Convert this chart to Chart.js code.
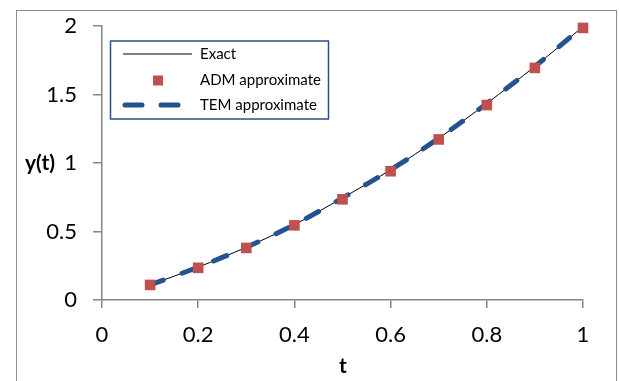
<!DOCTYPE html>
<html>
<head>
<meta charset="utf-8">
<script src="https://cdn.jsdelivr.net/npm/chart.js@4.4.0/dist/chart.umd.min.js"></script>
<style>
  body { margin: 0; background: #fff; }
  #wrap { position: relative; width: 619px; height: 381px; overflow: hidden; }
  #frame { position: absolute; left: 16px; top: 10px; width: 599px; height: 400px; border: 1px solid #8c8c8c; }
  canvas { position: absolute; left: 0; top: 0; }
</style>
</head>
<body>
<div id="wrap">
  <div id="frame"></div>
  <canvas id="chart" width="619" height="381"></canvas>
</div>
<script>
// data
const tValues = [0.1, 0.2, 0.3, 0.4, 0.5, 0.6, 0.7, 0.8, 0.9, 1.0];
const exactY = [0.11, 0.24, 0.385, 0.55, 0.745, 0.95, 1.18, 1.435, 1.705, 1.995];
const admY = [0.11, 0.235, 0.38, 0.545, 0.735, 0.94, 1.172, 1.423, 1.694, 1.986];
const temY = [0.11, 0.24, 0.385, 0.55, 0.745, 0.95, 1.18, 1.435, 1.705, 1.995];
const seriesNames = ['Exact', 'ADM approximate', 'TEM approximate'];
const xTitle = 't';
const yTitle = 'y(t)';

const FONT = 'Lato, "Open Sans", sans-serif';
const AXIS_COLOR = '#868686';
const TEM_COLOR = '#23528e';
const ADM_COLOR = '#c0504d';

const toPoints = (ys) => tValues.map((t, i) => ({ x: t, y: ys[i] }));
const fmt = (v) => String(Number(v.toFixed(2)));

// legend box + axis titles drawn by hand, like the Excel original
const extras = {
  id: 'extras',
  afterDraw(chart) {
    const ctx = chart.ctx;
    ctx.save();
    // legend frame
    ctx.strokeStyle = '#2b4f86';
    ctx.lineWidth = 1.5;
    ctx.fillStyle = '#fff';
    ctx.fillRect(110.5, 41, 218, 78);
    ctx.strokeRect(110.5, 41, 218, 78);

    // Exact sample
    ctx.strokeStyle = '#000';
    ctx.lineWidth = 1;
    ctx.beginPath();
    ctx.moveTo(123, 54);
    ctx.lineTo(192, 54);
    ctx.stroke();

    // ADM sample
    ctx.fillStyle = ADM_COLOR;
    ctx.fillRect(153, 75.5, 10, 10);

    // TEM sample
    ctx.strokeStyle = TEM_COLOR;
    ctx.lineWidth = 5;
    ctx.lineCap = 'round';
    ctx.setLineDash([17, 19]);
    ctx.beginPath();
    ctx.moveTo(125, 105);
    ctx.lineTo(178, 105);
    ctx.stroke();
    ctx.setLineDash([]);

    ctx.fillStyle = '#000';
    ctx.font = '15px ' + FONT;
    ctx.textBaseline = 'middle';
    ctx.textAlign = 'left';
    ctx.fillText(seriesNames[0], 200, 54);
    ctx.fillText(seriesNames[1], 200, 80);
    ctx.fillText(seriesNames[2], 200, 105);

    // axis titles
    ctx.font = 'bold 21px ' + FONT;
    ctx.fillText(yTitle, 25, 163);
    ctx.textAlign = 'center';
    ctx.fillText(xTitle, 343, 366);
    ctx.restore();
  }
};

new Chart(document.getElementById('chart'), {
  type: 'scatter',
  data: {
    datasets: [
      {
        label: seriesNames[1],
        data: toPoints(admY),
        showLine: false,
        clip: false,
        pointStyle: 'rect',
        pointRadius: 7.5,
        pointBackgroundColor: ADM_COLOR,
        pointBorderColor: ADM_COLOR,
        pointBorderWidth: 0,
        order: 1,
      },
      {
        label: seriesNames[2],
        data: toPoints(temY),
        showLine: true,
        clip: false,
        borderColor: TEM_COLOR,
        borderWidth: 5,
        borderDash: [14, 20],
        borderCapStyle: 'round',
        tension: 0.3,
        pointRadius: 0,
        order: 2,
      },
      {
        label: seriesNames[0],
        data: toPoints(exactY),
        showLine: true,
        clip: false,
        borderColor: '#000',
        borderWidth: 1,
        tension: 0.3,
        pointRadius: 0,
        order: 3,
      },
    ],
  },
  options: {
    responsive: false,
    animation: false,
    layout: { padding: { top: 26, right: 36, left: 0, bottom: 0 } },
    plugins: { legend: { display: false }, tooltip: { enabled: false } },
    scales: {
      x: {
        type: 'linear',
        min: 0,
        max: 1,
        afterFit: (scale) => { scale.height = 81; },
        ticks: { stepSize: 0.2, color: '#000', font: { family: FONT, size: 22 }, padding: 14, maxRotation: 0, callback: fmt },
        grid: { drawOnChartArea: false, tickLength: 8, color: AXIS_COLOR, lineWidth: 1.5 },
        border: { color: AXIS_COLOR, width: 1.5 },
      },
      y: {
        min: 0,
        max: 2,
        afterFit: (scale) => { scale.width = 102; scale.paddingTop = 16; },
        ticks: { stepSize: 0.5, color: '#000', font: { family: FONT, size: 22 }, padding: 16, callback: fmt },
        grid: { drawOnChartArea: false, tickLength: 9, color: AXIS_COLOR, lineWidth: 1.5 },
        border: { color: AXIS_COLOR, width: 1.5 },
      },
    },
  },
  plugins: [extras],
});
</script>
</body>
</html>
